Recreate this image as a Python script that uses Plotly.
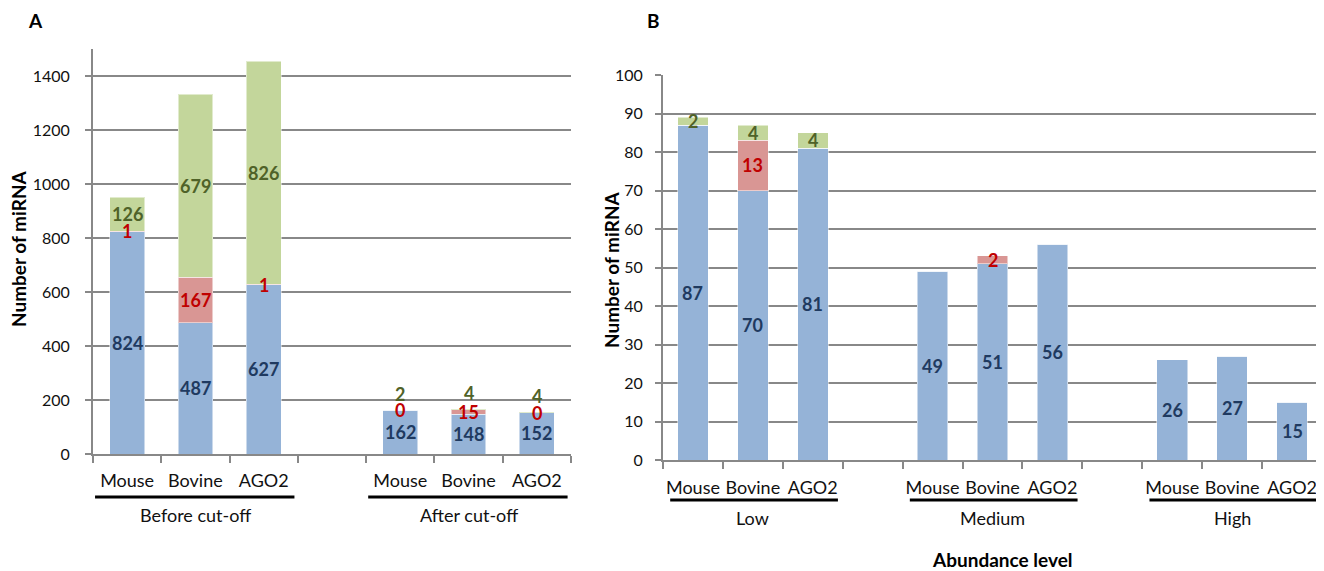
import plotly.graph_objects as go

# ---------------- data ----------------
species = ["Mouse", "Bovine", "AGO2"]

a_groups = ["Before cut-off", "After cut-off"]
a_blue = {"Before cut-off": [824, 487, 627], "After cut-off": [162, 148, 152]}
a_red = {"Before cut-off": [1, 167, 1], "After cut-off": [0, 15, 0]}
a_green = {"Before cut-off": [126, 679, 826], "After cut-off": [2, 4, 4]}

b_groups = ["Low", "Medium", "High"]
b_blue = {"Low": [87, 70, 81], "Medium": [49, 51, 56], "High": [26, 27, 15]}
b_red = {"Low": [0, 13, 0], "Medium": [0, 2, 0], "High": [0, 0, 0]}
b_green = {"Low": [2, 4, 4], "Medium": [0, 0, 0], "High": [0, 0, 0]}

a_ticks = [0, 200, 400, 600, 800, 1000, 1200, 1400]
b_ticks = [0, 10, 20, 30, 40, 50, 60, 70, 80, 90, 100]

y_title = "Number of miRNA"
b_x_title = "Abundance level"

# ---------------- style ----------------
FONT = "Lato"
BAR_COLORS = ["#95B3D7", "#D99694", "#C3D69B"]
LABEL_COLORS = ["#1F3A60", "#C00000", "#4F6228"]
GRID = "#888888"
VIEW_W, VIEW_H = 1324, 571
PAGE_MARGIN = 8  # default body margin of the html page
W, H = VIEW_W - PAGE_MARGIN, VIEW_H - PAGE_MARGIN


def px_x(p):
    return (p - PAGE_MARGIN) / W


def px_y(p):
    return 1 - (p - PAGE_MARGIN) / H


def build_categories(groups):
    cats, texts = [], []
    for gi, g in enumerate(groups):
        if gi > 0:
            cats.append(f"gap{gi}")
            texts.append("")
        for s in species:
            cats.append(f"{g}|{s}")
            texts.append(s)
    return cats, texts


fig = go.Figure()
annotations = []
shapes = []


def add_panel(groups, blue, red, green, xa, ya, show_zero, shift_rule):
    series = [blue, red, green]
    for si, ser in enumerate(series):
        xs, ys = [], []
        for g in groups:
            for k, s in enumerate(species):
                xs.append(f"{g}|{s}")
                ys.append(ser[g][k])
        fig.add_trace(go.Bar(
            x=xs, y=ys, xaxis=xa, yaxis=ya, name=f"Series {si+1}",
            marker=dict(color=BAR_COLORS[si],
                        line=dict(color="rgba(255,255,255,0.5)", width=1)),
            showlegend=False, hoverinfo="x+y",
        ))
    # labels
    for g in groups:
        for k, s in enumerate(species):
            base = 0
            for si, ser in enumerate(series):
                v = ser[g][k]
                if v != 0 or show_zero:
                    annotations.append(dict(
                        x=f"{g}|{s}", y=base + v / 2, xref=xa, yref=ya,
                        text=f"<b>{v}</b>", showarrow=False,
                        xanchor="center", yanchor="middle",
                        yshift=shift_rule(g, si),
                        font=dict(family=FONT, size=18, color=LABEL_COLORS[si]),
                    ))
                base += v


add_panel(a_groups, a_blue, a_red, a_green, "x", "y", True,
          lambda g, si: 16 if (g == "After cut-off" and si == 2) else 0)
add_panel(b_groups, b_blue, b_red, b_green, "x2", "y2", False,
          lambda g, si: 0)

a_cats, a_texts = build_categories(a_groups)
b_cats, b_texts = build_categories(b_groups)

common_x = dict(
    type="category", showline=True, linecolor=GRID, linewidth=2,
    ticks="outside", ticklen=7, tickwidth=2, tickcolor=GRID,
    tickson="boundaries", showgrid=False, tickangle=0, automargin=False,
    tickfont=dict(family=FONT, size=18, color="#111111"),
    fixedrange=True,
)
common_y = dict(
    showline=True, linecolor=GRID, linewidth=2, automargin=False,
    ticks="outside", ticklen=6, tickwidth=2, tickcolor=GRID,
    showgrid=True, gridcolor=GRID, gridwidth=1.8, zeroline=False,
    tickfont=dict(family=FONT, size=16, color="#111111"),
    fixedrange=True,
)

fig.update_layout(
    width=W, height=H, margin=dict(l=0, r=0, t=0, b=0, autoexpand=False),
    paper_bgcolor="white", plot_bgcolor="white",
    barmode="stack", bargap=0.49,
    xaxis=dict(common_x, domain=[px_x(93), px_x(571)], anchor="y",
               categoryorder="array", categoryarray=a_cats,
               tickmode="array", tickvals=a_cats, ticktext=a_texts,
               ticklabelstandoff=9,
               range=[-0.5, len(a_cats) - 0.5]),
    yaxis=dict(common_y, domain=[px_y(454), px_y(49)], anchor="x",
               ticklabelstandoff=12,
               range=[0, 1500], tickmode="array", tickvals=a_ticks),
    xaxis2=dict(common_x, domain=[px_x(663), px_x(1322)], anchor="y2",
                categoryorder="array", categoryarray=b_cats,
                tickmode="array", tickvals=b_cats, ticktext=b_texts,
                ticklabelstandoff=10,
                range=[-0.5, len(b_cats) - 0.5]),
    yaxis2=dict(common_y, domain=[px_y(460), px_y(75)], anchor="x2",
                ticklabelstandoff=9,
                range=[0, 100], tickmode="array", tickvals=b_ticks),
)

# y-axis titles
annotations.append(dict(x=px_x(18), y=px_y(249), xref="paper", yref="paper",
                        text=f"<b>{y_title}</b>", textangle=-90, showarrow=False,
                        xanchor="center", yanchor="middle",
                        font=dict(family=FONT, size=19, color="#000000")))
annotations.append(dict(x=px_x(611), y=px_y(270), xref="paper", yref="paper",
                        text=f"<b>{y_title}</b>", textangle=-90, showarrow=False,
                        xanchor="center", yanchor="middle",
                        font=dict(family=FONT, size=19, color="#000000")))

# group labels & underlines
for gi, g in enumerate(a_groups):
    start = gi * 4
    annotations.append(dict(x=f"{g}|Bovine", y=px_y(515), xref="x", yref="paper",
                            text=g, showarrow=False, xanchor="center", yanchor="middle",
                            font=dict(family=FONT, size=18, color="#111111")))
    shapes.append(dict(type="line", xref="x", yref="paper",
                       x0=start - 0.47, x1=start + 2.45,
                       y0=px_y(497), y1=px_y(497),
                       line=dict(color="black", width=3)))
for gi, g in enumerate(b_groups):
    start = gi * 4
    annotations.append(dict(x=f"{g}|Bovine", y=px_y(518), xref="x2", yref="paper",
                            text=g, showarrow=False, xanchor="center", yanchor="middle",
                            font=dict(family=FONT, size=18, color="#111111")))
    shapes.append(dict(type="line", xref="x2", yref="paper",
                       x0=start - 0.38, x1=start + 2.42,
                       y0=px_y(500), y1=px_y(500),
                       line=dict(color="black", width=3)))

annotations.append(dict(x=px_x(1002), y=px_y(559), xref="paper", yref="paper",
                        text=f"<b>{b_x_title}</b>", showarrow=False,
                        xanchor="center", yanchor="middle",
                        font=dict(family=FONT, size=19, color="#000000")))
annotations.append(dict(x=px_x(35), y=px_y(21), xref="paper", yref="paper",
                        text="<b>A</b>", showarrow=False,
                        xanchor="center", yanchor="middle",
                        font=dict(family=FONT, size=19, color="#000000")))
annotations.append(dict(x=px_x(653), y=px_y(21), xref="paper", yref="paper",
                        text="<b>B</b>", showarrow=False,
                        xanchor="center", yanchor="middle",
                        font=dict(family=FONT, size=19, color="#000000")))

fig.update_layout(annotations=annotations, shapes=shapes)
fig.write_html("out.html")
